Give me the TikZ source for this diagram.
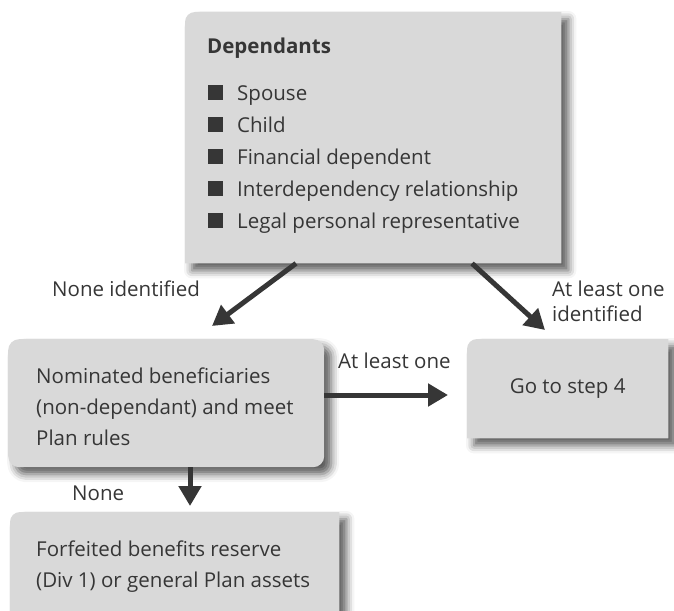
\documentclass[tikz,border=0pt]{standalone}
\usepackage{fontspec}
\setmainfont{Open Sans}
\usetikzlibrary{arrows.meta,shadows.blur}
\definecolor{boxgray}{HTML}{D9D9D9}
\definecolor{ink}{HTML}{363636}
\newcommand\sqbul{\textcolor{ink}{\rule{15pt}{15pt}}\hspace{14pt}}
\tikzset{
  boxfill/.style={fill=boxgray, blur shadow={shadow xshift=7pt, shadow yshift=-7pt, shadow blur radius=8pt, shadow opacity=65}},
  boxanchor/.style={rectangle, inner sep=0pt, anchor=north west},
  txt/.style={anchor=base west, inner sep=0pt, text=ink, font=\fontsize{20.5}{24}\selectfont},
  ctxt/.style={anchor=center, inner sep=0pt, text=ink, font=\fontsize{20.5}{24}\selectfont},
  arr/.style={draw=ink, line width=5pt, -{Triangle[width=22pt,length=20pt]}}
}
\begin{document}
\begin{tikzpicture}[x=1pt,y=1pt]
\useasboundingbox (0,0) rectangle (674,-610);
% boxes
\node[boxanchor, minimum width=376pt, minimum height=251pt] (dep) at (185,-12) {};
\path[boxfill] (dep.south west) -- ([yshift=-10pt]dep.north west) arc[start angle=180,end angle=90,radius=10pt] -- (dep.north east) -- (dep.south east) -- cycle;
\node[boxanchor, minimum width=316pt, minimum height=128pt, fill=boxgray, rounded corners=11pt,
  blur shadow={shadow xshift=7pt, shadow yshift=-7pt, shadow blur radius=8pt, shadow opacity=65}] (nom) at (8,-339) {};
\node[boxanchor, minimum width=201pt, minimum height=99pt] (go) at (467,-339) {};
\path[boxfill] (go.south west) -- ([yshift=-10pt]go.north west) arc[start angle=180,end angle=90,radius=10pt] -- (go.north east) -- (go.south east) -- cycle;
\node[boxanchor, minimum width=329pt, minimum height=115pt] (forf) at (10,-512) {};
\path[boxfill] (forf.south west) -- ([yshift=-10pt]forf.north west) arc[start angle=180,end angle=90,radius=10pt] -- (forf.north east) -- (forf.south east) -- cycle;
% top box text
\node[txt, font=\fontsize{20.5}{24}\selectfont\bfseries] (title) at (207,-53) {Dependants};
\node[txt] (l1) at (208,-100) {\sqbul Spouse};
\node[txt] (l2) at (208,-132) {\sqbul Child};
\node[txt] (l3) at (208,-164) {\sqbul Financial dependent};
\node[txt] (l4) at (208,-196) {\sqbul Interdependency relationship};
\node[txt] (l5) at (208,-228) {\sqbul Legal personal representative};
% nominated text
\node[txt] (n1) at (36,-383) {Nominated beneficiaries};
\node[txt] (n2) at (36,-414) {(non-dependant) and meet};
\node[txt] (n3) at (36,-445) {Plan rules};
% go text
\node[ctxt] (gt) at (go.center) {Go to step 4};
% forfeited text
\node[txt] (f1) at (36,-556) {Forfeited benefits reserve};
\node[txt] (f2) at (36,-587) {(Div 1) or general Plan assets};
% labels
\node[txt] (lb1) at (52,-296) {None identified};
\node[txt] (lb2) at (552,-296) {At least one};
\node[txt] (lb3) at (552,-321) {identified};
\node[txt] (lb4) at (338,-368) {At least one};
\node[txt] (lb5) at (72,-500) {None};
% arrow end points
\coordinate (e1) at (212,-326);
\coordinate (e2) at (545,-330);
\coordinate (e3) at (448,-395);
\coordinate (e4) at (190,-506);
% arrows
\draw[arr] ([xshift=111pt]dep.south west) -- (e1);
\draw[arr] ([xshift=287pt]dep.south west) -- (e2);
\draw[arr] (nom.east |- e3) -- (e3);
\draw[arr] (nom.south -| e4) -- (e4);
\end{tikzpicture}
\end{document}
